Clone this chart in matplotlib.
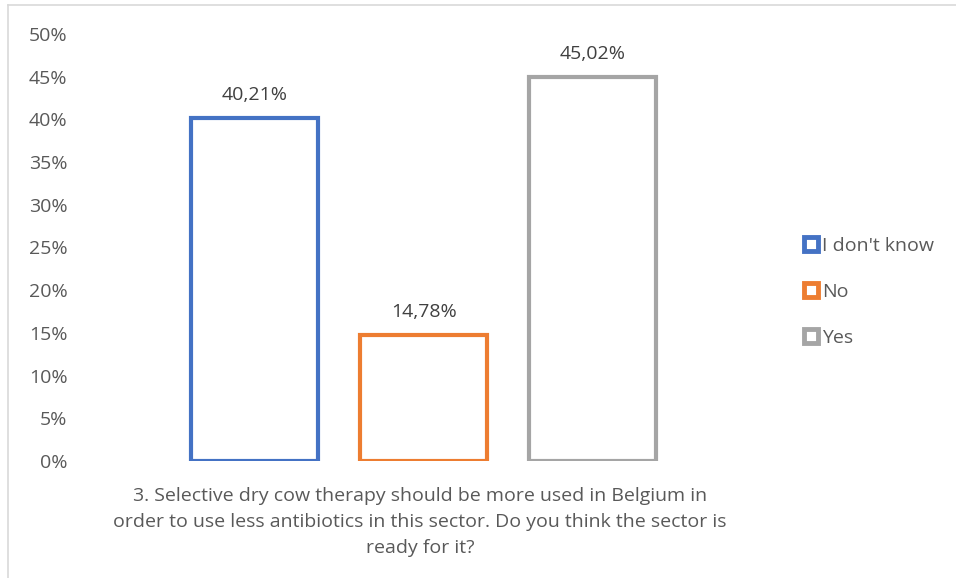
import matplotlib.pyplot as plt
from matplotlib.lines import Line2D

plt.rcParams['font.family'] = ['Open Sans', 'DejaVu Sans']

categories = ["I don't know", "No", "Yes"]
values = [40.21, 14.78, 45.02]
value_labels = ["40,21%", "14,78%", "45,02%"]
colors = ["#4472C4", "#ED7D31", "#A5A5A5"]
yticks = [0, 5, 10, 15, 20, 25, 30, 35, 40, 45, 50]
question = ("3. Selective dry cow therapy should be more used in Belgium in\n"
            "order to use less antibiotics in this sector. Do you think the sector is\n"
            "ready for it?")

W, H = 956, 578
fig = plt.figure(figsize=(W / 100, H / 100), dpi=100)

# chart border (only left/top visible in reference)
fig.add_artist(Line2D([8 / W, 8 / W], [0, 1 - 5 / H], color="#D9D9D9", lw=1.2))
fig.add_artist(Line2D([8 / W, 1], [1 - 5 / H, 1 - 5 / H], color="#D9D9D9", lw=1.2))

ax = fig.add_axes([80 / W, 1 - 461 / H, (770 - 80) / W, (461 - 34) / H])
pos = list(range(len(categories)))
bars = ax.bar(pos, values, width=0.75, color="white", edgecolor=colors, linewidth=3)
ax.set_xlim(-1.035, 3.05)
ax.set_ylim(0, 50)
ax.set_yticks(yticks)
ax.set_yticklabels([f"{t}%" for t in yticks], color="#595959", fontsize=14)
ax.tick_params(axis="y", length=0, pad=9)
ax.set_xticks([])
for s in ax.spines.values():
    s.set_visible(False)

for b, lab in zip(bars, value_labels):
    ax.text(b.get_x() + b.get_width() / 2, b.get_height() + 1.6, lab,
            ha="center", va="bottom", fontsize=14, color="#404040")

fig.text(420 / W, 1 - 522 / H, question, ha="center", va="center",
         fontsize=14, color="#595959", linespacing=1.6)

handles = [Line2D([], [], marker="s", linestyle="none", markersize=10,
                  markerfacecolor="white", markeredgecolor=c, markeredgewidth=3.5)
           for c in colors]
fig.legend(handles, categories, loc="center left", bbox_to_anchor=(784 / W, 1 - 292 / H),
           frameon=False, fontsize=14, labelcolor="#595959", handletextpad=0.05,
           labelspacing=1.45, handlelength=1.0)

fig.savefig("out.png", dpi=100)
